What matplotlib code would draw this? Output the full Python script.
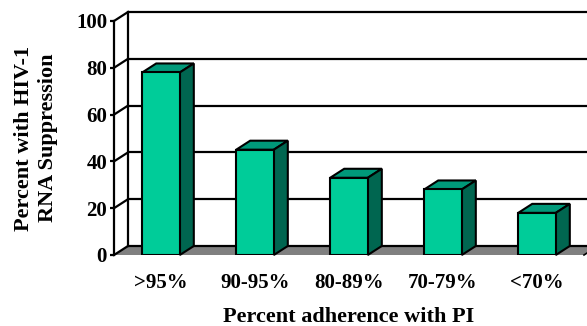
import matplotlib.pyplot as plt
import numpy as np
from matplotlib.patches import Polygon

plt.rcParams['font.family'] = ['Liberation Serif', 'DejaVu Serif']
plt.rcParams['font.weight'] = 'bold'

categories = ['>95%', '90-95%', '80-89%', '70-79%', '<70%']
suppression = [78, 45, 33, 28, 18]
y_ticks = [0, 20, 40, 60, 80, 100]

front_col = '#00cc99'
top_col = '#00997a'
side_col = '#006650'
floor_col = '#808080'

# depth of the fake 3d box, in data units
dx, dy = 0.149, 3.85
bar_w = 0.4

fig = plt.figure(figsize=(5.87, 3.26), dpi=100)
ax = fig.add_axes([114 / 587, 71 / 326, 470 / 587, 234 / 326])
ax.set_xlim(0, len(categories))
ax.set_ylim(0, 100)

# floor
floor = Polygon([(0, 0), (len(categories), 0), (len(categories) + dx, dy), (dx, dy)],
                closed=True, facecolor=floor_col, edgecolor='none', clip_on=False, zorder=1)
ax.add_patch(floor)

# back wall gridlines + left wall
for v in y_ticks:
    ax.plot([dx, len(categories) + dx + 1], [v + dy, v + dy], color='black', lw=1.6,
            clip_on=False, zorder=2, solid_capstyle='butt')
    ax.plot([0, dx], [v, v + dy], color='black', lw=1.6, clip_on=False, zorder=2)
ax.plot([dx, dx], [dy, 100 + dy], color='black', lw=1.6, clip_on=False, zorder=2)
ax.plot([len(categories), len(categories) + dx], [0, dy], color='black', lw=1.2,
        clip_on=False, zorder=2)

x = np.arange(len(categories)) + 0.5
ax.bar(x, suppression, width=bar_w, color=front_col, edgecolor='black', lw=1.5, zorder=4)
for xi, v in zip(x, suppression):
    l, r = xi - bar_w / 2, xi + bar_w / 2
    top = Polygon([(l, v), (r, v), (r + dx, v + dy), (l + dx, v + dy)], closed=True,
                  facecolor=top_col, edgecolor='black', lw=1.5, zorder=3, clip_on=False)
    side = Polygon([(r, 0), (r + dx, dy), (r + dx, v + dy), (r, v)], closed=True,
                   facecolor=side_col, edgecolor='black', lw=1.5, zorder=3, clip_on=False)
    ax.add_patch(top)
    ax.add_patch(side)

for s in ['top', 'right', 'bottom']:
    ax.spines[s].set_visible(False)
ax.spines['left'].set_linewidth(1.6)
ax.spines['left'].set_zorder(5)

ax.set_yticks(y_ticks)
ax.tick_params(axis='y', length=3, width=1.6, labelsize=15, pad=2)
ax.set_xticks(x)
ax.set_xticklabels(categories)
ax.tick_params(axis='x', length=0, labelsize=15, pad=13)

ax.set_xlabel('Percent adherence with PI', fontsize=16, fontweight='bold', labelpad=10)
ax.set_ylabel('Percent with HIV-1\nRNA Suppression', fontsize=16, fontweight='bold',
              labelpad=13, linespacing=1.25)

fig.savefig('out.png', dpi=100)
